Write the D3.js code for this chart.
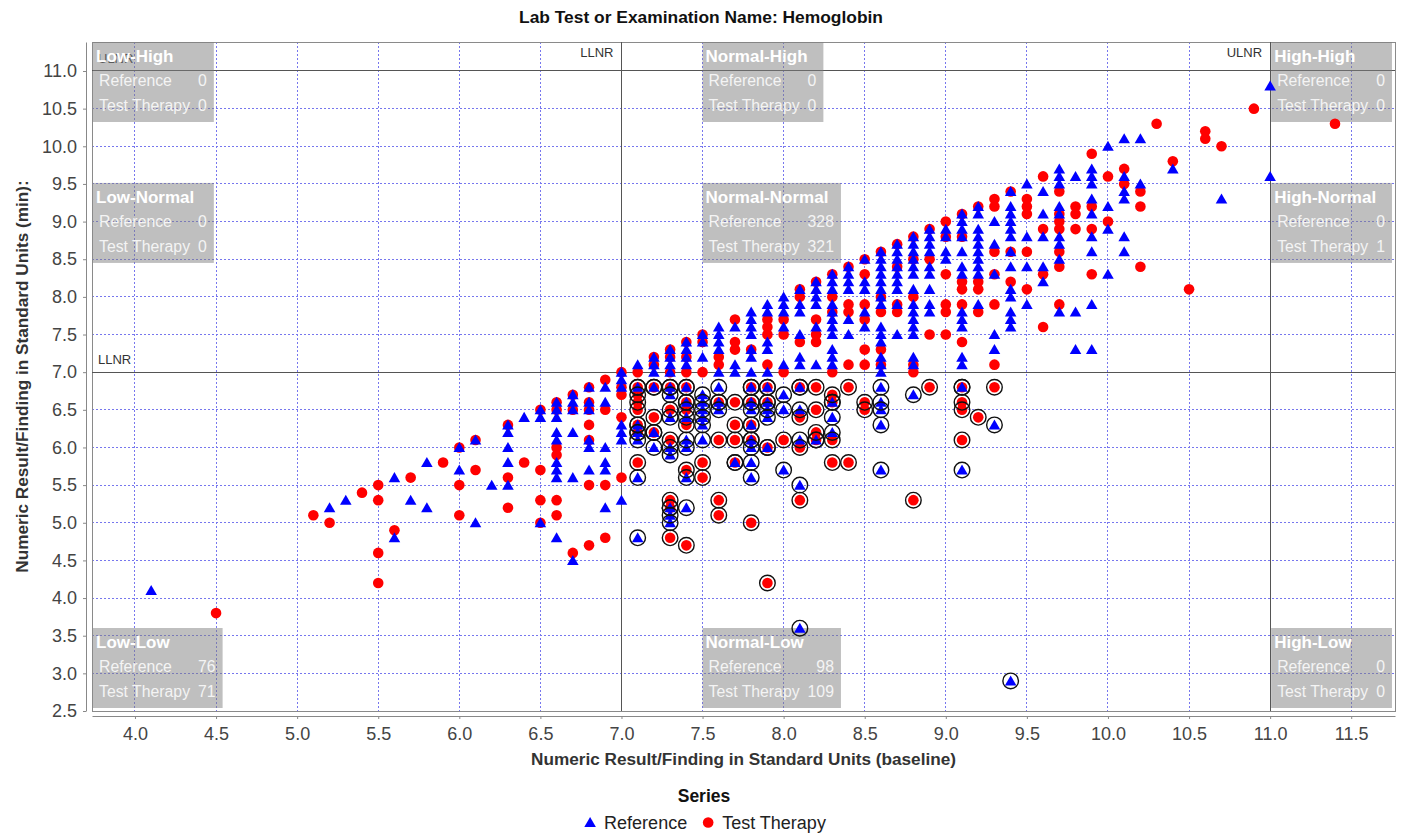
<!DOCTYPE html>
<html>
<head>
<meta charset="utf-8">
<script src="https://cdn.jsdelivr.net/npm/d3@7"></script>
<style>
  body { margin: 0; background: #fff; overflow: hidden; }
  svg text { font-family: "Liberation Sans", Arial, sans-serif; }
</style>
</head>
<body>
<script>
'use-strict';

// titles
let chartTitle = "Lab Test or Examination Name: Hemoglobin";
let xTitle = "Numeric Result/Finding in Standard Units (baseline)";
let yTitle = "Numeric Result/Finding in Standard Units (min):";
let legendTitle = "Series";
let seriesNames = ["Reference", "Test Therapy"];

// tick labels
let xTicks = [4.0, 4.5, 5.0, 5.5, 6.0, 6.5, 7.0, 7.5, 8.0, 8.5, 9.0, 9.5, 10.0, 10.5, 11.0, 11.5];
let yTicks = [2.5, 3.0, 3.5, 4.0, 4.5, 5.0, 5.5, 6.0, 6.5, 7.0, 7.5, 8.0, 8.5, 9.0, 9.5, 10.0, 10.5, 11.0];

// normal range limits
let lowerLimit = 7.0;
let upperLimit = 11.0;
let limitNames = ["LLNR", "ULNR"];

// quadrant summary boxes (rows: high, normal, low of the min value)
let boxNames = ["Low-High", "Normal-High", "High-High",
  "Low-Normal", "Normal-Normal", "High-Normal",
  "Low-Low", "Normal-Low", "High-Low"];
let refCounts = [0, 0, 0, 0, 328, 0, 76, 98, 0];
let testCounts = [0, 0, 0, 0, 321, 1, 71, 109, 0];

// reference series [baseline, min]
let refPoints = [
  [4.1, 4.1],
  [5.2, 5.2], [5.3, 5.3], [5.6, 5.6], [5.6, 4.8], [5.7, 5.3], [5.8, 5.8], [5.8, 5.2],
  [6.0, 6.0], [6.0, 5.7], [6.1, 6.1], [6.1, 5.0], [6.2, 5.5],
  [6.3, 6.3], [6.3, 6.2], [6.3, 6.0], [6.3, 5.8], [6.3, 5.5], [6.4, 6.4],
  [6.5, 6.5], [6.5, 6.4], [6.5, 5.0],
  [6.6, 6.6], [6.6, 6.5], [6.6, 6.4], [6.6, 6.2], [6.6, 6.1], [6.6, 5.8], [6.6, 5.7], [6.6, 5.6], [6.6, 4.8],
  [6.7, 6.7], [6.7, 6.6], [6.7, 6.5], [6.7, 6.2], [6.7, 5.6], [6.7, 4.5],
  [6.8, 6.8], [6.8, 6.6], [6.8, 6.5], [6.8, 6.1], [6.8, 6.0], [6.8, 5.7],
  [6.9, 6.8], [6.9, 6.6], [6.9, 6.0], [6.9, 5.8], [6.9, 5.7], [6.9, 5.2],
  [7.0, 7.0], [7.0, 6.9], [7.0, 6.8], [7.0, 6.3], [7.0, 6.2], [7.0, 6.1], [7.0, 5.3],
  [7.1, 7.1], [7.1, 6.8], [7.1, 6.3], [7.1, 6.2], [7.1, 6.1], [7.1, 5.6], [7.1, 4.8],
  [7.2, 7.2], [7.2, 7.1], [7.2, 7.0], [7.2, 6.8], [7.2, 6.2], [7.2, 6.0],
  [7.3, 7.3], [7.3, 7.2], [7.3, 7.1], [7.3, 7.0], [7.3, 6.8], [7.3, 6.7], [7.3, 6.4], [7.3, 6.0], [7.3, 5.9], [7.3, 5.2], [7.3, 5.1], [7.3, 5.0],
  [7.4, 7.4], [7.4, 7.3], [7.4, 7.2], [7.4, 7.1], [7.4, 6.8], [7.4, 6.6], [7.4, 6.4], [7.4, 6.1], [7.4, 6.0], [7.4, 5.6], [7.4, 5.2],
  [7.5, 7.5], [7.5, 7.4], [7.5, 7.2], [7.5, 6.7], [7.5, 6.6], [7.5, 6.5], [7.5, 6.4], [7.5, 6.3], [7.5, 6.1],
  [7.6, 7.6], [7.6, 7.5], [7.6, 7.4], [7.6, 7.3], [7.6, 7.0], [7.6, 6.8], [7.6, 6.6], [7.6, 6.5],
  [7.7, 7.6], [7.7, 7.1], [7.7, 7.0], [7.7, 5.8],
  [7.8, 7.8], [7.8, 7.7], [7.8, 7.6], [7.8, 7.5], [7.8, 7.3], [7.8, 7.2], [7.8, 7.0], [7.8, 6.8], [7.8, 6.6], [7.8, 6.5], [7.8, 6.3], [7.8, 6.1], [7.8, 6.0], [7.8, 5.8], [7.8, 5.6],
  [7.9, 7.9], [7.9, 7.8], [7.9, 7.4], [7.9, 7.3], [7.9, 7.0], [7.9, 6.8], [7.9, 6.6], [7.9, 6.5], [7.9, 6.4], [7.9, 6.0],
  [8.0, 8.0], [8.0, 7.9], [8.0, 7.8], [8.0, 7.6], [8.0, 7.1], [8.0, 6.7], [8.0, 6.5], [8.0, 5.7],
  [8.1, 8.1], [8.1, 7.9], [8.1, 7.8], [8.1, 7.5], [8.1, 7.2], [8.1, 7.1], [8.1, 6.8], [8.1, 6.5], [8.1, 6.1], [8.1, 5.5], [8.1, 3.6],
  [8.2, 8.2], [8.2, 8.1], [8.2, 8.0], [8.2, 7.9], [8.2, 7.6], [8.2, 7.1], [8.2, 6.1],
  [8.3, 8.3], [8.3, 8.2], [8.3, 8.1], [8.3, 7.9], [8.3, 7.8], [8.3, 7.7], [8.3, 7.6], [8.3, 7.5], [8.3, 7.3], [8.3, 7.2], [8.3, 7.1], [8.3, 6.6], [8.3, 6.4], [8.3, 6.2],
  [8.4, 8.4], [8.4, 8.3], [8.4, 8.2], [8.4, 8.1], [8.4, 7.7], [8.4, 7.5],
  [8.5, 8.5], [8.5, 8.2], [8.5, 8.1], [8.5, 7.8], [8.5, 7.6],
  [8.6, 8.6], [8.6, 8.5], [8.6, 8.4], [8.6, 8.3], [8.6, 8.2], [8.6, 8.1], [8.6, 8.0], [8.6, 7.9], [8.6, 7.6], [8.6, 7.5], [8.6, 7.4], [8.6, 7.2], [8.6, 7.1], [8.6, 7.0], [8.6, 6.8], [8.6, 6.6], [8.6, 6.5], [8.6, 6.3], [8.6, 5.7],
  [8.7, 8.7], [8.7, 8.6], [8.7, 8.5], [8.7, 8.4], [8.7, 8.3], [8.7, 8.2], [8.7, 8.1], [8.7, 7.9], [8.7, 7.5],
  [8.8, 8.8], [8.8, 8.7], [8.8, 8.6], [8.8, 8.5], [8.8, 8.4], [8.8, 8.3], [8.8, 8.1], [8.8, 7.9], [8.8, 7.8], [8.8, 7.7], [8.8, 7.6], [8.8, 7.5], [8.8, 7.2], [8.8, 7.1], [8.8, 6.7],
  [8.9, 8.9], [8.9, 8.8], [8.9, 8.7], [8.9, 8.6], [8.9, 8.4], [8.9, 8.3], [8.9, 8.1], [8.9, 7.9], [8.9, 7.8],
  [9.0, 8.9], [9.0, 8.8], [9.0, 8.6], [9.0, 8.5],
  [9.1, 9.1], [9.1, 9.0], [9.1, 8.9], [9.1, 8.8], [9.1, 8.6], [9.1, 8.4], [9.1, 8.3], [9.1, 7.8], [9.1, 7.7], [9.1, 7.6], [9.1, 7.2], [9.1, 7.1], [9.1, 6.8], [9.1, 5.7],
  [9.2, 9.2], [9.2, 9.1], [9.2, 8.9], [9.2, 8.8], [9.2, 8.7], [9.2, 8.6], [9.2, 8.5], [9.2, 8.4], [9.2, 8.3], [9.2, 7.9],
  [9.3, 9.0], [9.3, 8.7], [9.3, 8.3], [9.3, 7.5], [9.3, 7.3], [9.3, 6.3],
  [9.4, 9.4], [9.4, 9.2], [9.4, 9.1], [9.4, 9.0], [9.4, 8.9], [9.4, 8.8], [9.4, 8.6], [9.4, 8.4], [9.4, 8.1], [9.4, 8.0], [9.4, 7.8], [9.4, 7.7], [9.4, 7.6], [9.4, 2.9],
  [9.5, 9.5], [9.5, 8.8], [9.5, 8.4], [9.5, 7.9],
  [9.6, 9.4], [9.6, 9.1], [9.6, 8.8], [9.6, 8.4], [9.6, 8.2],
  [9.7, 9.7], [9.7, 9.6], [9.7, 9.5], [9.7, 9.2], [9.7, 9.1], [9.7, 8.8], [9.7, 8.7], [9.7, 8.5], [9.7, 7.8],
  [9.8, 9.6], [9.8, 7.8], [9.8, 7.3],
  [9.9, 9.7], [9.9, 9.6], [9.9, 9.5], [9.9, 9.3], [9.9, 9.1], [9.9, 8.8], [9.9, 8.6], [9.9, 7.9], [9.9, 7.3],
  [10.0, 10.0], [10.0, 9.2], [10.0, 8.9], [10.0, 8.3],
  [10.1, 10.1], [10.1, 9.6], [10.1, 9.4], [10.1, 9.3], [10.1, 8.8], [10.1, 8.6],
  [10.2, 10.1], [10.2, 9.5],
  [10.4, 9.7], [10.7, 9.3], [11.0, 10.8], [11.0, 9.6]
];

// test therapy series [baseline, min]
let testPoints = [
  [4.5, 3.8],
  [5.1, 5.1], [5.2, 5.0], [5.4, 5.4], [5.5, 5.5], [5.5, 5.3], [5.5, 4.6], [5.5, 4.2], [5.6, 4.9], [5.7, 5.6], [5.9, 5.8],
  [6.0, 6.0], [6.0, 5.5], [6.0, 5.1], [6.1, 6.1], [6.1, 5.7],
  [6.3, 6.3], [6.3, 5.6], [6.3, 5.2], [6.4, 5.8],
  [6.5, 6.5], [6.5, 5.7], [6.5, 5.3], [6.5, 5.0],
  [6.6, 6.6], [6.6, 6.5], [6.6, 6.0], [6.6, 5.9], [6.6, 5.3], [6.6, 5.1],
  [6.7, 6.7], [6.7, 6.5], [6.7, 4.6],
  [6.8, 6.8], [6.8, 6.6], [6.8, 6.5], [6.8, 6.3], [6.8, 6.1], [6.8, 5.5], [6.8, 4.7],
  [6.9, 6.9], [6.9, 6.5], [6.9, 5.5], [6.9, 4.8],
  [7.0, 7.0], [7.0, 6.8], [7.0, 6.7], [7.0, 6.4], [7.0, 5.6],
  [7.1, 7.0], [7.1, 6.8], [7.1, 6.7], [7.1, 6.6], [7.1, 6.5], [7.1, 6.3], [7.1, 6.2], [7.1, 5.8],
  [7.2, 7.2], [7.2, 7.1], [7.2, 6.8], [7.2, 6.4], [7.2, 6.2],
  [7.3, 7.3], [7.3, 7.2], [7.3, 7.0], [7.3, 6.8], [7.3, 6.5], [7.3, 6.1], [7.3, 5.3], [7.3, 5.2], [7.3, 4.8],
  [7.4, 7.4], [7.4, 7.2], [7.4, 7.0], [7.4, 6.8], [7.4, 6.6], [7.4, 6.5], [7.4, 6.3], [7.4, 5.7], [7.4, 4.7],
  [7.5, 7.5], [7.5, 7.4], [7.5, 7.0], [7.5, 5.8], [7.5, 5.6],
  [7.6, 7.2], [7.6, 7.1], [7.6, 6.6], [7.6, 6.1], [7.6, 5.3], [7.6, 5.1],
  [7.7, 7.7], [7.7, 7.4], [7.7, 7.3], [7.7, 6.6], [7.7, 6.3], [7.7, 6.1], [7.7, 5.8],
  [7.8, 7.3], [7.8, 6.8], [7.8, 6.6], [7.8, 6.3], [7.8, 6.1], [7.8, 5.0],
  [7.9, 7.7], [7.9, 7.6], [7.9, 7.5], [7.9, 7.1], [7.9, 6.8], [7.9, 6.6], [7.9, 6.0], [7.9, 4.2],
  [8.0, 7.7], [8.0, 7.5], [8.0, 7.0], [8.0, 6.1],
  [8.1, 8.1], [8.1, 8.0], [8.1, 7.4], [8.1, 6.8], [8.1, 6.4], [8.1, 6.0], [8.1, 5.3],
  [8.2, 8.2], [8.2, 7.7], [8.2, 7.5], [8.2, 7.4], [8.2, 6.8], [8.2, 6.5], [8.2, 6.2], [8.2, 6.1],
  [8.3, 8.3], [8.3, 8.0], [8.3, 7.8], [8.3, 7.0], [8.3, 6.7], [8.3, 6.6], [8.3, 6.1], [8.3, 5.8],
  [8.4, 8.4], [8.4, 7.9], [8.4, 7.8], [8.4, 7.1], [8.4, 6.8], [8.4, 5.8],
  [8.5, 8.5], [8.5, 8.3], [8.5, 7.9], [8.5, 7.7], [8.5, 7.3], [8.5, 7.1], [8.5, 6.6], [8.5, 6.5],
  [8.6, 8.6], [8.6, 8.0], [8.6, 7.8], [8.6, 7.3], [8.6, 7.1],
  [8.7, 8.7], [8.7, 8.4], [8.7, 7.9], [8.7, 7.8],
  [8.8, 8.8], [8.8, 8.5], [8.8, 8.0], [8.8, 7.1], [8.8, 7.0], [8.8, 5.3],
  [8.9, 8.9], [8.9, 8.5], [8.9, 7.5], [8.9, 6.8],
  [9.0, 9.0], [9.0, 8.8], [9.0, 8.3], [9.0, 7.9], [9.0, 7.8], [9.0, 7.5],
  [9.1, 9.1], [9.1, 8.8], [9.1, 8.2], [9.1, 8.1], [9.1, 7.9], [9.1, 7.4], [9.1, 6.8], [9.1, 6.6], [9.1, 6.5], [9.1, 6.1],
  [9.2, 9.2], [9.2, 8.2], [9.2, 8.1], [9.2, 7.8], [9.2, 6.4],
  [9.3, 9.3], [9.3, 9.2], [9.3, 8.6], [9.3, 8.3], [9.3, 7.9], [9.3, 7.1], [9.3, 6.8],
  [9.4, 9.4], [9.4, 8.6], [9.4, 8.2],
  [9.5, 9.3], [9.5, 9.2], [9.5, 9.1], [9.5, 8.6], [9.5, 8.1],
  [9.6, 9.6], [9.6, 8.9], [9.6, 8.3], [9.6, 7.6],
  [9.7, 9.4], [9.7, 9.1], [9.7, 9.0], [9.7, 8.9], [9.7, 8.6], [9.7, 8.4], [9.7, 7.9],
  [9.8, 9.2], [9.8, 9.1], [9.8, 8.9],
  [9.9, 9.9], [9.9, 9.2], [9.9, 8.9], [9.9, 8.3],
  [10.0, 9.6], [10.0, 9.0],
  [10.1, 9.7], [10.1, 9.5],
  [10.2, 9.4], [10.2, 9.2], [10.2, 8.4],
  [10.3, 10.3], [10.4, 9.8], [10.5, 8.1], [10.6, 10.2], [10.6, 10.1], [10.7, 10.0], [10.9, 10.5], [11.4, 10.3]
];

// page and plot area
let width = 1401, height = 833;
let plot = { left: 92, top: 42, right: 1395, bottom: 711 };

let svgContainer = d3.select("body")
  .append("svg")
  .attr("width", width)
  .attr("height", height);

let x = d3.scaleLinear().domain([3.735, 11.77]).range([plot.left, plot.right]);
let y = d3.scaleLinear().domain([2.5, 11.385]).range([plot.bottom, plot.top]);

drawGrid();
drawLimits();
drawBoxes();
drawPoints();
drawAxes();
drawLabels();
drawLegend();

// dashed blue grid and plot frame
function drawGrid() {
  let grid = svgContainer.append("g").attr("shape-rendering", "crispEdges");
  grid.selectAll(".vgrid")
    .data(xTicks)
    .enter()
    .append("line")
    .attr("x1", d => x(d)).attr("x2", d => x(d))
    .attr("y1", plot.top).attr("y2", plot.bottom)
    .attr("stroke", "#7777ee")
    .attr("stroke-dasharray", "2,2");
  grid.selectAll(".hgrid")
    .data(yTicks)
    .enter()
    .append("line")
    .attr("x1", plot.left).attr("x2", plot.right)
    .attr("y1", d => y(d)).attr("y2", d => y(d))
    .attr("stroke", "#7777ee")
    .attr("stroke-dasharray", "2,2");
  grid.append("rect")
    .attr("x", plot.left).attr("y", plot.top)
    .attr("width", plot.right - plot.left)
    .attr("height", plot.bottom - plot.top)
    .attr("fill", "none")
    .attr("stroke", "#8a8a8a");
}

// lower and upper limit lines with their names
function drawLimits() {
  let g = svgContainer.append("g").attr("shape-rendering", "crispEdges");
  let limits = [lowerLimit, upperLimit];
  g.selectAll(".vlim")
    .data(limits)
    .enter()
    .append("line")
    .attr("x1", d => x(d)).attr("x2", d => x(d))
    .attr("y1", plot.top).attr("y2", plot.bottom)
    .attr("stroke", "#555");
  g.selectAll(".hlim")
    .data(limits)
    .enter()
    .append("line")
    .attr("x1", plot.left).attr("x2", plot.right)
    .attr("y1", d => y(d)).attr("y2", d => y(d))
    .attr("stroke", "#555");

  limits.forEach((d, i) => {
    svgContainer.append("text")
      .attr("x", x(d) - 8)
      .attr("y", plot.top + 15)
      .attr("text-anchor", "end")
      .style("font-size", "13px")
      .attr("fill", "#333")
      .text(limitNames[i]);
    svgContainer.append("text")
      .attr("x", plot.left + 6)
      .attr("y", y(d) - 8)
      .style("font-size", "13px")
      .attr("fill", "#333")
      .text(limitNames[i]);
  });
}

// translucent summary boxes for each quadrant
function drawBoxes() {
  let colX = [plot.left + 1, x(7.5), x(upperLimit) + 1];
  let rowY = [plot.top, y(9.5) - 1, y(2.5) - 83];

  boxNames.forEach((name, i) => {
    let bx = colX[i % 3];
    let by = rowY[Math.floor(i / 3)];
    let g = svgContainer.append("g").attr("transform", "translate(" + bx + "," + by + ")");
    let rect = g.append("rect").attr("height", 80).attr("fill", "rgba(128,128,128,0.5)");

    let t = g.append("text")
      .attr("x", 3).attr("y", 20)
      .attr("fill", "#fff")
      .style("font-size", "17px")
      .style("font-weight", "bold")
      .text(name);

    let rows = [[seriesNames[0], refCounts[i]], [seriesNames[1], testCounts[i]]];
    let labelW = 0, valueW = 0;
    let values = [];
    rows.forEach((r, k) => {
      let lab = g.append("text")
        .attr("x", 6).attr("y", 44 + k * 25)
        .attr("fill", "#f4f4f4")
        .style("font-size", "15.8px")
        .text(r[0]);
      let val = g.append("text")
        .attr("y", 44 + k * 25)
        .attr("text-anchor", "end")
        .attr("fill", "#f4f4f4")
        .style("font-size", "15.8px")
        .text(r[1]);
      labelW = Math.max(labelW, lab.node().getComputedTextLength());
      valueW = Math.max(valueW, val.node().getComputedTextLength());
      values.push(val);
    });
    let w = Math.max(t.node().getComputedTextLength() + 8, 6 + labelW + 8 + valueW + 7);
    rect.attr("width", w);
    values.forEach(v => v.attr("x", w - 7));
  });
}

// red circles first, blue triangles on top, rings round the normal-low points
function drawPoints() {
  let isNormalLow = d => d[0] > lowerLimit && d[0] < upperLimit && d[1] < lowerLimit;

  svgContainer.append("g")
    .selectAll("circle")
    .data(testPoints)
    .enter()
    .append("circle")
    .attr("cx", d => x(d[0]))
    .attr("cy", d => y(d[1]))
    .attr("r", 5.3)
    .attr("fill", "#ff0000");

  let tri = d3.symbol().type(d3.symbolTriangle).size(58);
  svgContainer.append("g")
    .selectAll("path")
    .data(refPoints)
    .enter()
    .append("path")
    .attr("d", tri)
    .attr("transform", d => "translate(" + x(d[0]) + "," + (y(d[1]) + 1.2) + ")")
    .attr("fill", "#0000ff");

  svgContainer.append("g")
    .selectAll("circle")
    .data(testPoints.concat(refPoints).filter(isNormalLow))
    .enter()
    .append("circle")
    .attr("cx", d => x(d[0]))
    .attr("cy", d => y(d[1]))
    .attr("r", 7.8)
    .attr("fill", "none")
    .attr("stroke", "#111")
    .attr("stroke-width", 1.4);
}

// axes below and left of the plot
function drawAxes() {
  let xAxis = d3.axisBottom(x)
    .tickValues(xTicks)
    .tickFormat(d3.format(".1f"))
    .tickSize(3)
    .tickSizeOuter(0)
    .tickPadding(8);
  let gx = svgContainer.append("g")
    .attr("transform", "translate(0," + (plot.bottom + 5) + ")")
    .call(xAxis);

  let yAxis = d3.axisLeft(y)
    .tickValues(yTicks)
    .tickFormat(d3.format(".1f"))
    .tickSize(3)
    .tickSizeOuter(0)
    .tickPadding(6);
  let gy = svgContainer.append("g")
    .attr("transform", "translate(" + (plot.left - 6) + ",0)")
    .call(yAxis);

  [gx, gy].forEach(g => {
    g.select(".domain").attr("stroke", "#888");
    g.selectAll(".tick line").attr("stroke", "#888");
    g.selectAll(".tick text")
      .attr("fill", "#444")
      .style("font-size", "18px")
      .style("font-family", "'Liberation Sans', Arial, sans-serif");
  });
}

// chart title and axis titles
function drawLabels() {
  svgContainer.append("text")
    .attr("x", 701)
    .attr("y", 23)
    .attr("text-anchor", "middle")
    .style("font-size", "17.4px")
    .style("font-weight", "bold")
    .attr("fill", "#111")
    .text(chartTitle);

  svgContainer.append("text")
    .attr("x", (plot.left + plot.right) / 2)
    .attr("y", 765)
    .attr("text-anchor", "middle")
    .style("font-size", "17.2px")
    .style("font-weight", "bold")
    .attr("fill", "#333")
    .text(xTitle);

  svgContainer.append("text")
    .attr("transform", "rotate(-90)")
    .attr("x", -(plot.top + plot.bottom) / 2)
    .attr("y", 28)
    .attr("text-anchor", "middle")
    .style("font-size", "17.2px")
    .style("font-weight", "bold")
    .attr("fill", "#333")
    .text(yTitle);
}

// series legend centred under the chart
function drawLegend() {
  svgContainer.append("text")
    .attr("x", 704)
    .attr("y", 802)
    .attr("text-anchor", "middle")
    .style("font-size", "17.5px")
    .style("font-weight", "bold")
    .attr("fill", "#111")
    .text(legendTitle);

  let g = svgContainer.append("g");
  let offset = 0;
  seriesNames.forEach((name, i) => {
    let sym = i === 0
      ? d3.symbol().type(d3.symbolTriangle).size(58)
      : d3.symbol().type(d3.symbolCircle).size(Math.PI * 5.3 * 5.3);
    g.append("path")
      .attr("d", sym)
      .attr("transform", "translate(" + offset + "," + (i === 0 ? 1.2 : 0) + ")")
      .attr("fill", i === 0 ? "#0000ff" : "#ff0000");
    let t = g.append("text")
      .attr("x", offset + 14)
      .attr("y", 6.5)
      .style("font-size", "18px")
      .attr("fill", "#222")
      .text(name);
    offset += 14 + t.node().getComputedTextLength() + 21;
  });
  let total = offset - 21 + 6;
  g.attr("transform", "translate(" + (705 - total / 2 + 6) + ",822.5)");
}
</script>
</body>
</html>
